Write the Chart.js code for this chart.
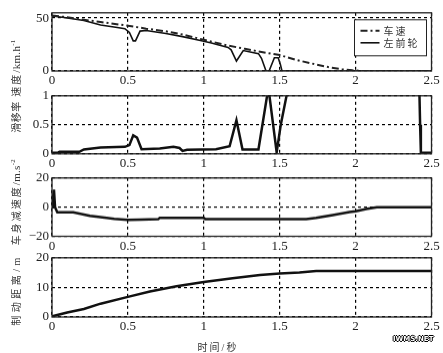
<!DOCTYPE html>
<html>
<head>
<meta charset="utf-8">
<script src="https://cdn.jsdelivr.net/npm/chart.js@4"></script>
<style>
body{margin:0;background:#fff;width:443px;height:353px;position:relative;overflow:hidden;font-family:"Liberation Serif","Noto Sans CJK SC",serif;color:#333}
.box{position:absolute;left:0;width:443px}
.yt{position:absolute;white-space:nowrap;font-size:10px;transform:translate(-50%,-50%) rotate(-90deg)}
.yt sup{font-size:7px}
.yt .l{letter-spacing:0.3px;font-size:11px}
.mark{position:absolute;left:393px;top:335px;font:bold 7px "DejaVu Sans";color:#fff;text-shadow:1px 0 #000,-1px 0 #000,0 1px #000,0 -1px #000}
</style>
</head>
<body>
<div class="box" style="top:2px;height:87px"><canvas id="speed_chart"></canvas></div>
<div class="box" style="top:84.5px;height:86.8px"><canvas id="slip_chart"></canvas></div>
<div class="box" style="top:167px;height:86.5px"><canvas id="decel_chart"></canvas></div>
<div class="box" style="top:246.7px;height:88px"><canvas id="dist_chart"></canvas></div>

<div class="yt" style="left:15px;top:68px;letter-spacing:2px">速度<span class="l">/km.h<sup>-1</sup></span></div>
<div class="yt" style="left:15px;top:117px;letter-spacing:0.5px">滑移率</div>
<div class="yt" style="left:15px;top:202px;letter-spacing:2px">车身减速度<span class="l">/m.s<sup>-2</sup></span></div>
<div class="yt" style="left:15px;top:290px;letter-spacing:3.5px">制动距离/m</div>
<div style="position:absolute;left:218px;top:346px;transform:translate(-50%,-50%);font-size:10px;letter-spacing:2px;white-space:nowrap">时间/秒</div>
<div class="mark">IWMS.NET</div>

<script>
// panel 1: speed (km/h)
let speedT = [0, 0.1, 0.2, 0.32, 0.5, 0.62, 0.75, 0.86, 1.0, 1.16, 1.27, 1.38, 1.5, 1.6, 1.71, 1.82, 1.91, 1.98, 2.05, 2.5];
let vehicleSpeed = [52.5, 50.8, 48.6, 46.3, 42.8, 40.0, 37.5, 34.5, 29.5, 24.0, 21.0, 18.0, 15.1, 10.8, 7.1, 3.7, 1.7, 0.6, 0, 0];
let wheelT = [0, 0.08, 0.21, 0.32, 0.43, 0.48, 0.51, 0.535, 0.55, 0.58, 0.62, 0.75, 0.86, 0.97, 1.05, 1.16, 1.18, 1.215, 1.26, 1.36, 1.38, 1.41, 1.43, 1.465, 1.49, 1.505, 1.515, 2.5];
let wheelSpeed = [52, 50.5, 47.7, 43.4, 41.1, 40.0, 36.5, 28.5, 28.5, 37.7, 38.3, 35.5, 32.5, 29.0, 26.4, 22.3, 20.0, 9.4, 19.3, 16.4, 12.0, 0, 0, 12.5, 12.5, 6.0, 0, 0];

// panel 2: slip ratio
let slipT = [0, 0.04, 0.05, 0.18, 0.21, 0.32, 0.48, 0.51, 0.535, 0.56, 0.59, 0.71, 0.8, 0.84, 0.86, 0.89, 1.08, 1.17, 1.215, 1.255, 1.36, 1.42, 1.43, 1.48, 1.507, 1.545, 1.56, 2.42, 2.425, 2.43, 2.5];
let slipRatio = [0.02, 0.02, 0.035, 0.035, 0.075, 0.11, 0.12, 0.15, 0.32, 0.28, 0.08, 0.09, 0.12, 0.1, 0.05, 0.07, 0.08, 0.13, 0.58, 0.075, 0.075, 1.05, 1.05, 0.025, 0.5, 1.0, 1.1, 1.1, 0.5, 0.02, 0.02];

// panel 3: body deceleration (m/s^2)
let decelT = [0, 0.005, 0.013, 0.02, 0.035, 0.14, 0.25, 0.36, 0.41, 0.5, 0.58, 0.7, 0.71, 1.0, 1.01, 1.675, 1.74, 1.85, 1.96, 2.0, 2.07, 2.14, 2.5];
let bodyDecel = [0, 5, 12, 0, -3.5, -3.5, -6, -7.3, -8, -8.8, -8.5, -8.3, -7.3, -7.3, -8.2, -8.2, -7.4, -5.4, -3.4, -2.8, -1.3, 0, 0];

// panel 4: braking distance (m)
let distT = [0, 0.1, 0.21, 0.32, 0.5, 0.645, 0.82, 1.0, 1.19, 1.37, 1.5, 1.63, 1.74, 2.0, 2.5];
let brakeDist = [0.2, 1.5, 2.7, 4.5, 6.8, 8.6, 10.4, 11.8, 13.1, 14.2, 14.7, 15.0, 15.5, 15.5, 15.5];

let xTicks = [0, 0.5, 1, 1.5, 2, 2.5];

function pts(t, v) {
    return t.map(function(x, i) {return {x: x, y: v[i]};});
}

function fmt(v) {
    return v < 0 ? '\u2212' + Math.abs(v) : String(v);
}

let tickFont = {family: '"Liberation Serif", serif', size: 13};

let frame = {
    id: 'frame',
    afterDraw: function(chart) {
        let ctx = chart.ctx, a = chart.chartArea;
        ctx.save();
        ctx.strokeStyle = '#222';
        ctx.lineWidth = 1.3;
        ctx.strokeRect(a.left, a.top, a.right - a.left, a.bottom - a.top);
        ctx.restore();
    }
};

let legendBox = {
    id: 'legendBox',
    afterDraw: function(chart) {
        let ctx = chart.ctx, a = chart.chartArea;
        let w = 72, h = 36, x = a.right - 5 - w, y = a.top + 7;
        ctx.save();
        ctx.fillStyle = '#fff';
        ctx.fillRect(x, y, w, h);
        ctx.strokeStyle = '#222';
        ctx.lineWidth = 1;
        ctx.strokeRect(x, y, w, h);
        chart.data.datasets.forEach(function(ds, i) {
            let ly = y + 11 + i * 12;
            ctx.setLineDash(ds.borderDash || []);
            ctx.lineWidth = ds.borderWidth;
            ctx.strokeStyle = ds.borderColor;
            ctx.beginPath();
            ctx.moveTo(x + 6, ly);
            ctx.lineTo(x + 25, ly);
            ctx.stroke();
            ctx.setLineDash([]);
            ctx.fillStyle = '#333';
            ctx.font = '10px "Noto Sans CJK SC"';
            ctx.letterSpacing = '2px';
            ctx.textBaseline = 'middle';
            ctx.fillText(ds.label, x + 29, ly);
        });
        ctx.restore();
    }
};

function panelOptions(yMin, yMax, yTicks) {
    return {
        responsive: true,
        maintainAspectRatio: false,
        animation: false,
        layout: {padding: {left: 0, right: 11.5, top: 4, bottom: 0}},
        plugins: {legend: {display: false}, tooltip: {enabled: false}},
        elements: {point: {radius: 0}, line: {tension: 0}},
        scales: {
            x: {
                type: 'linear', min: 0, max: 2.5,
                afterBuildTicks: function(s) {s.ticks = xTicks.map(function(v) {return {value: v};});},
                ticks: {color: '#222', font: tickFont, padding: 2, maxRotation: 0, callback: fmt},
                grid: {color: '#000', lineWidth: 1.2, drawTicks: false},
                border: {display: false, dash: [3, 3]},
                afterFit: function(s) {s.height = 18; s.paddingLeft = 0; s.paddingRight = 0;}
            },
            y: {
                min: yMin, max: yMax,
                afterBuildTicks: function(s) {s.ticks = yTicks.map(function(v) {return {value: v};});},
                ticks: {color: '#222', font: tickFont, padding: 3, callback: fmt},
                grid: {color: '#000', lineWidth: 1.2, drawTicks: false},
                border: {display: false, dash: [3, 3]},
                afterFit: function(s) {s.width = 52;}
            }
        }
    };
}

let speedChart = new Chart(document.getElementById('speed_chart'), {
    type: 'line',
    data: {
        datasets: [
            {label: '车速', data: pts(speedT, vehicleSpeed), borderColor: '#222', borderWidth: 2, borderDash: [7, 3, 2, 3]},
            {label: '左前轮', data: pts(wheelT, wheelSpeed), borderColor: '#111', borderWidth: 1.6}
        ]
    },
    options: panelOptions(0, 55, [0, 50]),
    plugins: [frame, legendBox]
});

let slipChart = new Chart(document.getElementById('slip_chart'), {
    type: 'line',
    data: {
        datasets: [
            {label: '滑移率', data: pts(slipT, slipRatio), borderColor: '#111', borderWidth: 2.5}
        ]
    },
    options: panelOptions(0, 1, [0, 0.5, 1]),
    plugins: [frame]
});

let decelChart = new Chart(document.getElementById('decel_chart'), {
    type: 'line',
    data: {
        datasets: [
            {label: '车身减速度', data: pts(decelT, bodyDecel), borderColor: '#111', borderWidth: 2.5}
        ]
    },
    options: panelOptions(-20, 20, [-20, 0, 20]),
    plugins: [frame]
});

let distChart = new Chart(document.getElementById('dist_chart'), {
    type: 'line',
    data: {
        datasets: [
            {label: '制动距离', data: pts(distT, brakeDist), borderColor: '#111', borderWidth: 2.5}
        ]
    },
    options: panelOptions(0, 20, [0, 10, 20]),
    plugins: [frame]
});
</script>
</body>
</html>
